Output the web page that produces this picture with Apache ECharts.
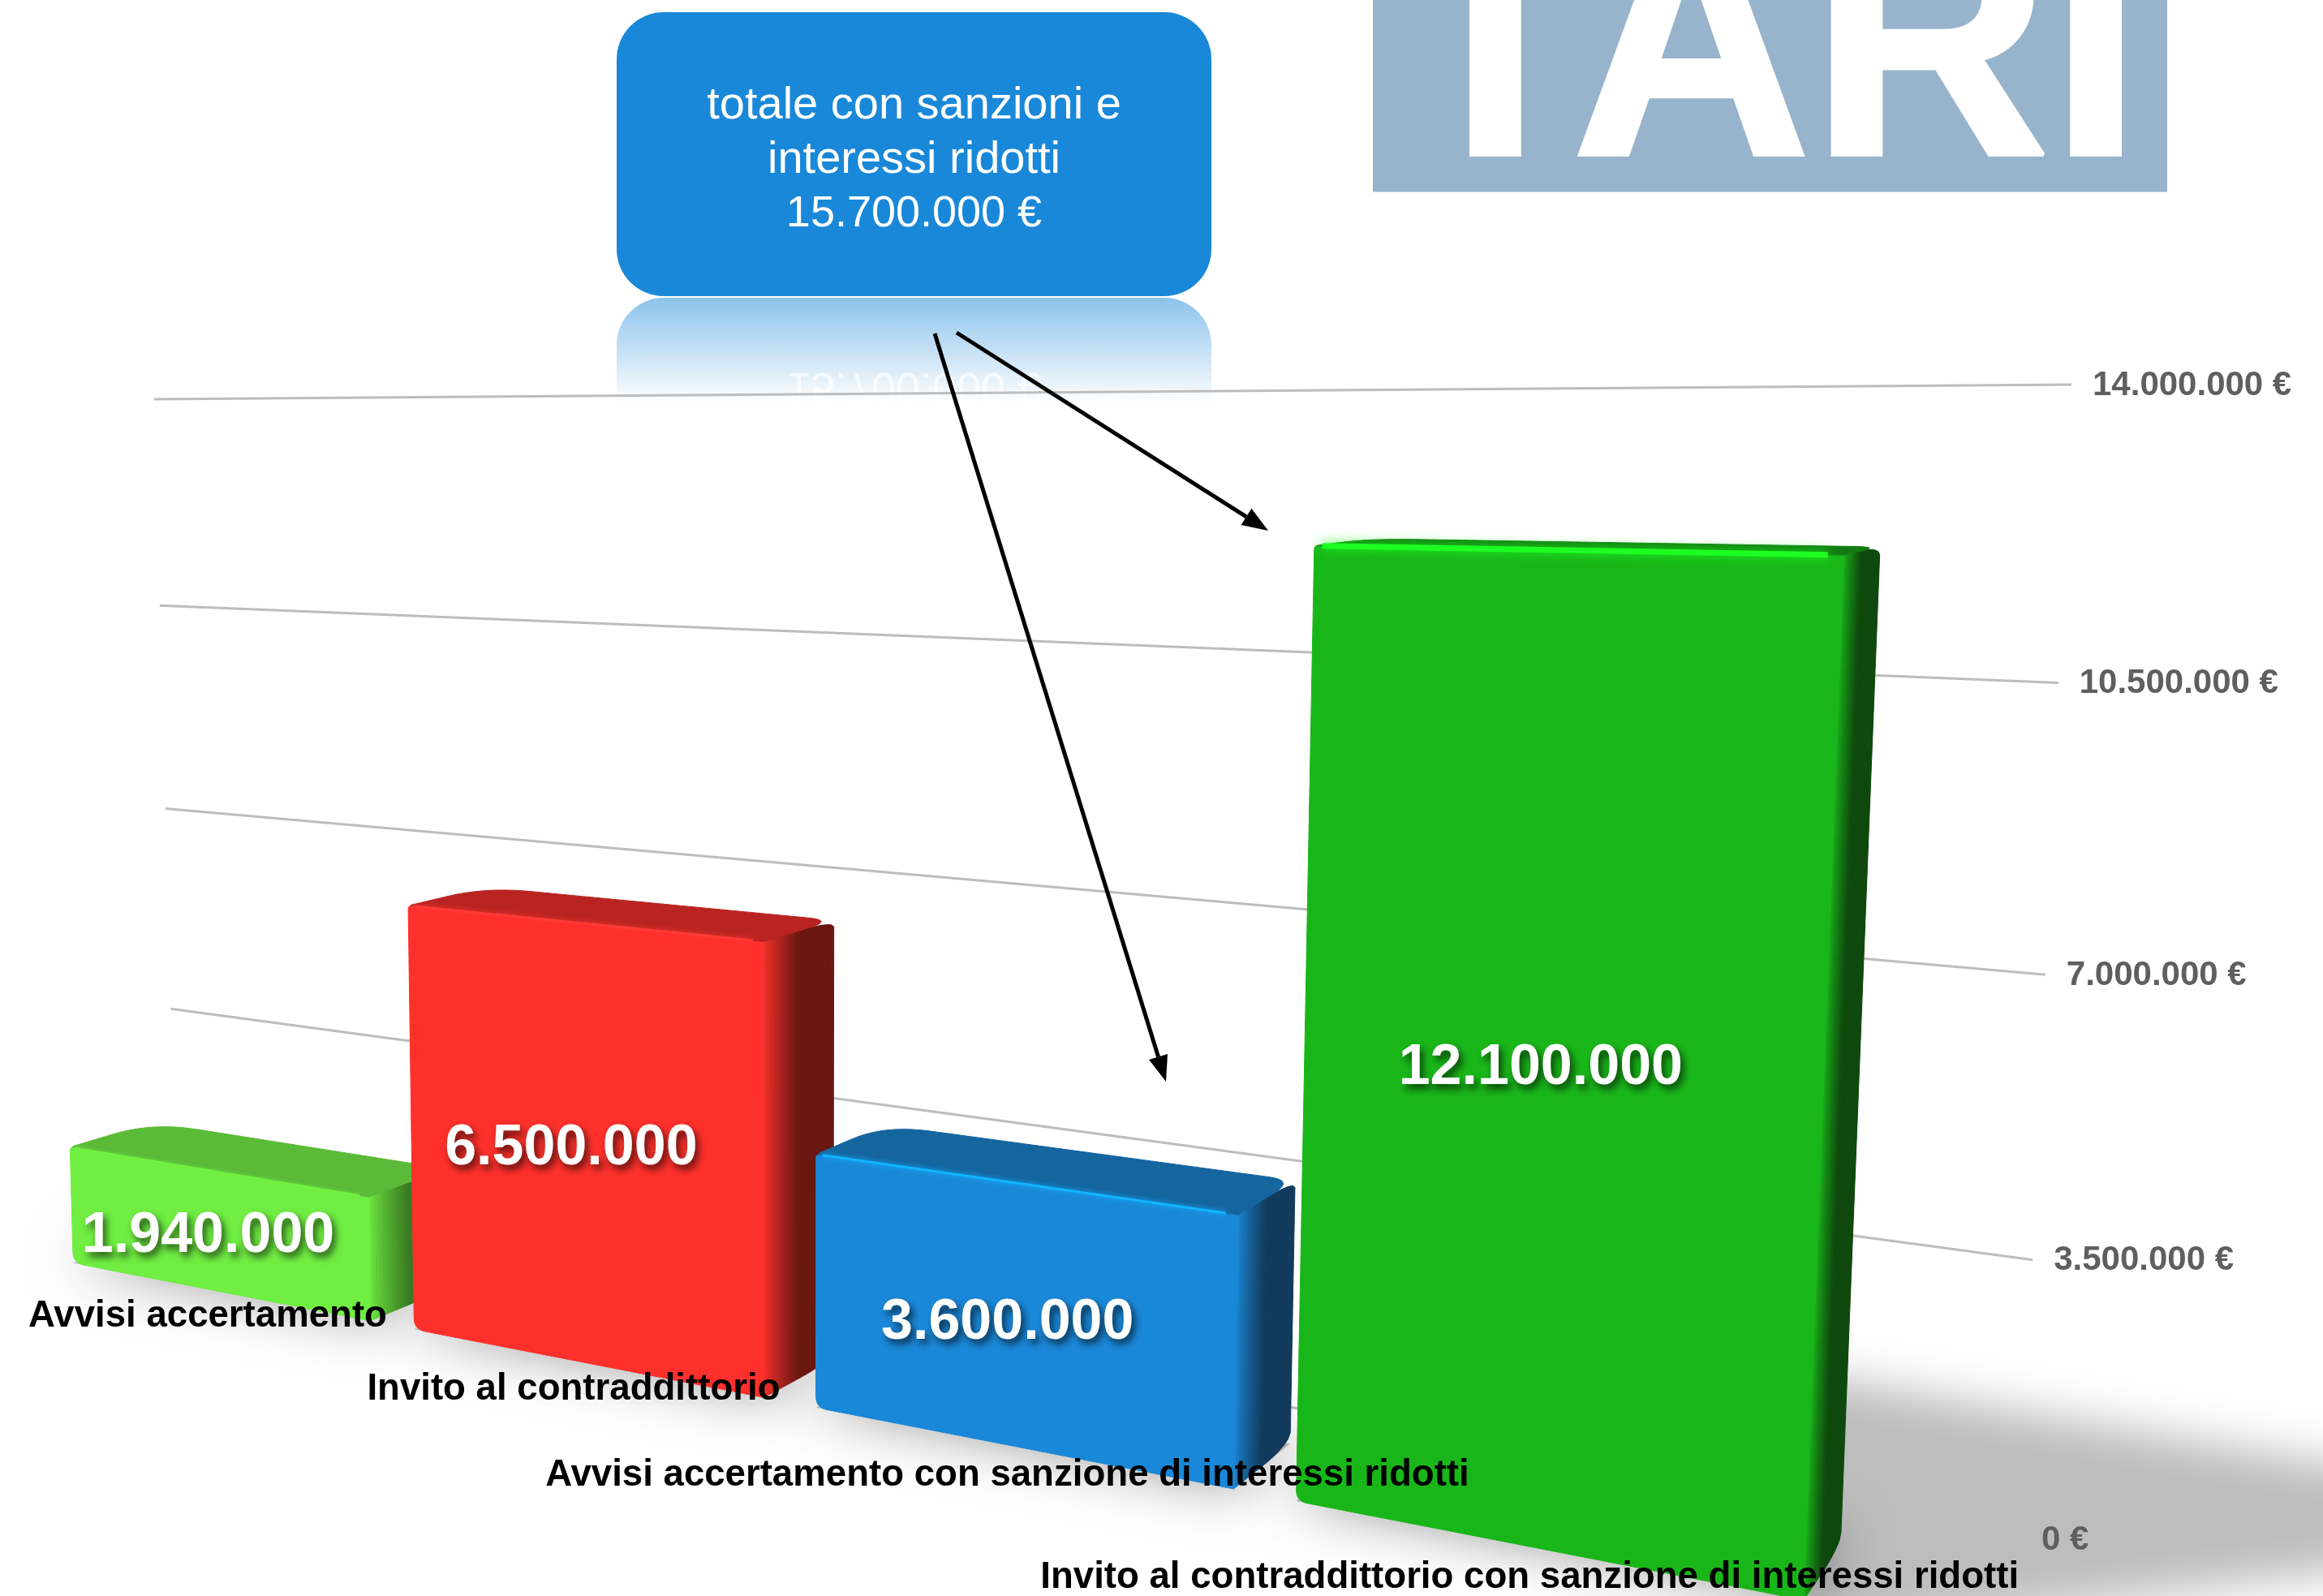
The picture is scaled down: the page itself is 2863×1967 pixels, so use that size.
<!DOCTYPE html>
<html><head><meta charset="utf-8">
<style>html,body{margin:0;padding:0;background:#fff}#c{width:2863px;height:1967px}</style>
<script src="https://cdn.jsdelivr.net/npm/echarts@6/dist/echarts.min.js"></script>
</head><body><div id="c"></div>
<script>
const categories=["Avvisi accertamento","Invito al contraddittorio","Avvisi accertamento con sanzione di interessi ridotti","Invito al contraddittorio con sanzione di interessi ridotti"];
const values=[1940000,6500000,3600000,12100000];
const valueLabels=["1.940.000","6.500.000","3.600.000","12.100.000"];
const axisValues=[0,3500000,7000000,10500000,14000000];
const axisLabels=["0 €","3.500.000 €","7.000.000 €","10.500.000 €","14.000.000 €"];
const calloutLines=["totale con sanzioni e","interessi ridotti","15.700.000 €"];
const titleText="TARI";

const W=2863,H=1967,FONT="'Liberation Sans',Arial,sans-serif";
const palette=[
 {front:'#70ee42',top:'#5bba38',side:'#3a7a22',hi:'#74f045',hw:2},
 {front:'#fe302b',top:'#b92422',side:'#6a1712',hi:'#ff3a34',hw:3},
 {front:'#1a88d9',top:'#15659f',side:'#113a5c',hi:'#12b4ff',hw:3},
 {front:'#19b619',top:'#137a12',side:'#0e480d',hi:'#1dff22',hw:7}
];
function quad(p0,p1,p2,p3){
 const dx1=p1[0]-p2[0],dx2=p3[0]-p2[0],sx=p0[0]-p1[0]+p2[0]-p3[0];
 const dy1=p1[1]-p2[1],dy2=p3[1]-p2[1],sy=p0[1]-p1[1]+p2[1]-p3[1];
 const den=dx1*dy2-dx2*dy1;
 const g=(sx*dy2-dx2*sy)/den,h=(dx1*sy-sx*dy1)/den;
 const a=p1[0]-p0[0]+g*p1[0],b=p3[0]-p0[0]+h*p3[0],d=p1[1]-p0[1]+g*p1[1],e=p3[1]-p0[1]+h*p3[1];
 return (s,t)=>[a*s+b*t+p0[0],d*s+e*t+p0[1],g*s+h*t+1];
}
// plane of the bar fronts and plane of the gridlines (corners: lower-left, lower-right, upper-right, upper-left)
const frontPlane=quad([67,1552],[2270,1981],[2330,472],[38,498]);
const wallPlane=quad([217,1486],[2490,1897],[2553,474],[190,492]);
const VP=[3234,467],DEPTH=0.033;
const gs=x=>x/W, gt=y=>(H-y)/H;
function front(gx,gy,D){const q=frontPlane(gs(gx),gt(gy));const d=D||0;const w=q[2]+d;return [(q[0]+d*VP[0])/w,(q[1]+d*VP[1])/w];}
function wall(gx,gy){const q=wallPlane(gs(gx),gt(gy));return [q[0]/q[2],q[1]/q[2]];}
function roundPoly(pts,radii){
 const out=[],n=pts.length;
 for(let i=0;i<n;i++){
  const p=pts[i],a=pts[(i+n-1)%n],b=pts[(i+1)%n],r=radii[i];
  if(!r){out.push(p);continue;}
  const la=Math.hypot(a[0]-p[0],a[1]-p[1]),lb=Math.hypot(b[0]-p[0],b[1]-p[1]);
  const ra=Math.min(r,la*.48),rb=Math.min(r,lb*.48);
  const s=[p[0]+(a[0]-p[0])*ra/la,p[1]+(a[1]-p[1])*ra/la],e=[p[0]+(b[0]-p[0])*rb/lb,p[1]+(b[1]-p[1])*rb/lb];
  for(let k=0;k<=10;k++){const t=k/10,u=1-t;out.push([u*u*s[0]+2*u*t*p[0]+t*t*e[0],u*u*s[1]+2*u*t*p[1]+t*t*e[1]]);}
 }
 return out;
}
function mix(c1,c2,t){const f=c=>[1,3,5].map(i=>parseInt(c.substr(i,2),16));const a=f(c1),b=f(c2);
 return 'rgb('+a.map((v,i)=>Math.round(v+(b[i]-v)*t)).join(',')+')';}
function edges(api){
 const c=api.coord([api.value(0),api.value(1)]),base=api.coord([api.value(0),0]),bw=api.size([1,0])[0];
 return {L:c[0]-bw*.44,R:c[0]+bw*.44,C:c[0],T:c[1],B:base[1]};
}
function renderBar(params,api){
 const i=params.dataIndex,col=palette[i],e=edges(api),kids=[];
 const poly=(points,fill,extra)=>Object.assign({type:'polygon',shape:{points},style:{fill,stroke:fill,lineWidth:1}},extra||{});
 const N=24,D1=DEPTH*.55;
 const ends=[];
 for(let j=0;j<=N;j++){
  const D=DEPTH*j/N;let dt=0,db=0;
  if(D>D1){const q=(D-D1)/(DEPTH-D1),k=1-Math.sqrt(Math.max(0,1-q*q));dt=k*13;db=k*22;}
  ends.push({D,top:front(e.R,e.T+dt,D),bot:front(e.R,e.B-db,D)});
 }
 for(let j=0;j<N;j++){
  const a=ends[j],b=ends[j+1];
  const m=Math.min(1,(a.D+b.D)/2/(DEPTH*.5));
  kids.push(poly([a.top,b.top,b.bot,a.bot],mix(col.front,col.side,Math.pow(m,.8))));
 }
 const ftl=front(e.L,e.T),ftr=front(e.R,e.T),fbr=front(e.R,e.B),fbl=front(e.L,e.B);
 const btl=front(e.L,e.T,DEPTH),btr=front(e.R,e.T,DEPTH);
 kids.push(poly(roundPoly([ftl,fbl,fbr,ftr],[4,14,0,0]),col.front));
 kids.push(poly(roundPoly([ftl,ftr,btr,btl],[6,0,32,55]),col.top));
 const hiL=[ftl[0]+(ftr[0]-ftl[0])*.015,ftl[1]+(ftr[1]-ftl[1])*.015],hiR=[ftl[0]+(ftr[0]-ftl[0])*.97,ftl[1]+(ftr[1]-ftl[1])*.97];
 kids.push({type:'polyline',shape:{points:[hiL,hiR]},style:{stroke:col.hi,lineWidth:col.hw,fill:null,shadowBlur:col.hw*2,shadowColor:col.hi}});
 return {type:'group',children:kids};
}
function renderFloor(params,api){
 const e=edges(api);
 const pts=[front(e.L,e.B),front(e.R,e.B),front(e.R,e.B,DEPTH),front(e.L,e.B,DEPTH)];
 return {type:'polygon',shape:{points:pts},style:{fill:'rgba(170,170,170,.8)',shadowBlur:70,shadowColor:'rgba(0,0,0,.55)',shadowOffsetY:-6}};
}
const labelAt=[0.46,0.49,0.47,0.49],labelShift=[-9,-12,-12,-14],catShift=[-3,0,2,2];
function renderValueLabel(params,api){
 const i=params.dataIndex,e=edges(api),p=front(e.C,e.B+(e.T-e.B)*labelAt[i],0);
 return {type:'text',style:{text:valueLabels[i],x:p[0]+labelShift[i],y:p[1],align:'center',verticalAlign:'middle',fill:'#fff',
  font:"bold 70px "+FONT,textShadowBlur:10,textShadowColor:'rgba(0,0,0,.65)',textShadowOffsetX:4,textShadowOffsetY:6}};
}
function renderCategory(params,api){
 const i=params.dataIndex,e=edges(api),p=front(e.C,e.B,0);
 return {type:'text',style:{text:categories[i],x:p[0]-11,y:p[1]+34+catShift[i],align:'center',verticalAlign:'middle',fill:'#000',font:"bold 45.6px "+FONT}};
}
function renderGrid(params,api){
 const i=params.dataIndex,bw=api.size([1,0])[0];
 const l=api.coord([0,api.value(1)]),r=api.coord([categories.length-1,api.value(1)]);
 const a=wall(l[0]-bw/2,l[1]),b=wall(r[0]+bw/2,r[1]);
 return {type:'group',children:[
  {type:'line',shape:{x1:a[0],y1:a[1],x2:b[0],y2:b[1]},style:{stroke:'#bdbdbd',lineWidth:3}},
  {type:'text',style:{text:axisLabels[i],x:b[0]+26,y:b[1]+1,align:'left',verticalAlign:'middle',fill:'#5f5f5f',font:"bold 42px "+FONT}}
 ]};
}
function arrow(x1,y1,x2,y2){
 const a=Math.atan2(y2-y1,x2-x1),len=32,hw=12;
 const bx=x2-len*Math.cos(a),by=y2-len*Math.sin(a),nx=-Math.sin(a)*hw,ny=Math.cos(a)*hw;
 return [
  {type:'line',z:20,shape:{x1,y1,x2:bx,y2:by},style:{stroke:'#000',lineWidth:5}},
  {type:'polygon',z:20,shape:{points:[[x2,y2],[bx+nx,by+ny],[bx-nx,by-ny]]},style:{fill:'#000'}}
 ];
}
const pairs=values.map((v,i)=>[i,v]);
const gridPairs=axisValues.map(v=>[0,v]);
const custom=(name,data,renderItem,z)=>({type:'custom',name,data,renderItem,z,clip:false,silent:true,encode:{x:0,y:1}});
const OFF=4000; // the cast shadow's source shape sits off the page so only its blur shows
const chart=echarts.init(document.getElementById('c'),null,{renderer:'canvas'});
chart.setOption({
 animation:false,backgroundColor:'#fff',
 grid:{left:0,right:0,top:0,bottom:0},
 xAxis:{type:'category',data:categories,show:false},
 yAxis:{type:'value',min:0,max:14000000,interval:3500000,show:false},
 graphic:{elements:[
  {type:'polygon',z:0,shape:{points:[[2200-OFF,1690],[3060-OFF,1835],[3060-OFF,1915],[2200-OFF,2020]]},style:{fill:'#bdbdbd',shadowBlur:55,shadowColor:'#bdbdbd',shadowOffsetX:OFF}},
  {type:'rect',z:1,shape:{x:1692,y:-10,width:979,height:246.5},style:{fill:'#97b4cc'}},
  {type:'text',z:2,style:{text:titleText,x:2179,y:78,align:'center',verticalAlign:'middle',fill:'#fff',stroke:'#fff',lineWidth:5,font:"bold 408px "+FONT}},
  {type:'rect',z:1,shape:{x:760,y:15,width:733,height:350,r:58},style:{fill:'#1a88d8'}},
  {type:'rect',z:0,shape:{x:760,y:367,width:733,height:130,r:[58,58,0,0]},style:{fill:new echarts.graphic.LinearGradient(0,0,0,1,[{offset:0,color:'rgba(26,136,216,.5)'},{offset:1,color:'rgba(26,136,216,0)'}])}},
  {type:'text',z:0,x:1126.5,y:475,scaleY:-1,style:{text:calloutLines[2],x:0,y:0,align:'center',verticalAlign:'middle',fill:'rgba(255,255,255,.7)',font:"54px "+FONT}},
  ...calloutLines.map((t,i)=>({type:'text',z:2,style:{text:t,x:1126.5,y:131+i*66.5,align:'center',verticalAlign:'middle',fill:'#fff',font:(i==2?54:56)+"px "+FONT}})),
  ...arrow(1152,411,1437,1333),
  ...arrow(1179,410,1563,654)
 ]},
 series:[
  custom('grid',gridPairs,renderGrid,3),
  custom('floor',pairs,renderFloor,4),
  custom('bars',pairs,renderBar,5),
  custom('values',pairs,renderValueLabel,8),
  custom('categories',pairs,renderCategory,9)
 ]
});
</script></body></html>
